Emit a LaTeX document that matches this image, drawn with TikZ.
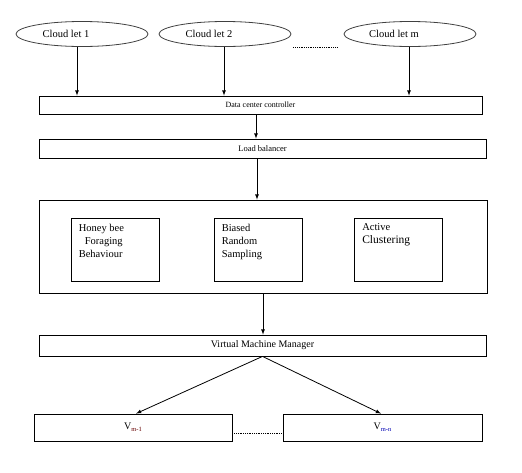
\documentclass[tikz,border=0pt]{standalone}
\usepackage{fontspec}
\setmainfont{Liberation Serif}
\usetikzlibrary{positioning}
\usetikzlibrary{arrows,shapes}
\usetikzlibrary{calc}
\tikzstyle{cloud}=[ellipse,draw=black!75,line width=0.8pt,minimum width=132pt,minimum height=25pt,inner sep=0pt]
\tikzstyle{cloudtext}=[font=\fontsize{10.5}{12}\selectfont,inner sep=0pt]
\tikzstyle{bar}=[rectangle,draw,line width=0.8pt,inner sep=0pt]
\tikzstyle{algbox}=[rectangle,draw,line width=0.8pt,minimum width=88pt,minimum height=63pt,inner sep=0pt]
\tikzstyle{algtext}=[anchor=north west,align=left,font=\fontsize{10.5}{13}\selectfont,inner sep=0pt]
\tikzstyle{edge} = [draw,line width=0.8pt,-latex]

\begin{document}
\begin{tikzpicture}[x=1pt,y=-1pt]
  \useasboundingbox (0,0) rectangle (522,472);

  % cloudlets
  \foreach \x/\name/\idx in {82/c1/1, 225/c2/2, 410/cm/m}
  {
    \node[cloud] (\name) at (\x,34) {};
    \node[cloudtext] (\name t) at ([xshift=-16pt]\name.center) {Cloud let \idx};
  }
  \draw[densely dotted,line width=0.8pt] ([xshift=2pt]c2.south -| c2.east) -- ([xshift=-6pt]cm.south -| cm.west);

  \node[bar,minimum width=443pt,minimum height=18pt,font=\fontsize{8}{9}\selectfont] (dcc) at (260.5,105) {Data center controller};
  \node[bar,minimum width=447pt,minimum height=19pt,font=\fontsize{8.5}{10}\selectfont] (lb) at (262.5,148.5) {Load balancer};

  \foreach \name/\dx in {c1/-5, c2/-1, cm/-1}
    \draw[edge] ([xshift=\dx pt]\name.south) -- ([xshift=\dx pt]\name.south |- dcc.north);

  % algorithms
  \node[bar,minimum width=448pt,minimum height=93pt] (pool) at (263,246.5) {};
  \foreach \x/\name in {115/hb, 258/brs, 398.5/ac}
    \node[algbox] (\name) at (\x,249.5) {};
  \node[algtext] (hbt) at ([xshift=8pt,yshift=-6pt]hb.north west) {Honey bee\\\hspace*{6pt}Foraging\\Behaviour};
  \node[algtext] (brst) at ([xshift=8pt,yshift=-6pt]brs.north west) {Biased\\Random\\Sampling};
  \node[algtext] (act) at ([xshift=8pt,yshift=-6pt]ac.north west) {Active\\{\fontsize{11.5}{13}\selectfont Clustering}};

  \node[bar,minimum width=447pt,minimum height=21pt,font=\fontsize{10}{12}\selectfont] (vmm) at (262.5,345.5) {Virtual Machine Manager};

  \node[bar,minimum width=198pt,minimum height=27pt,font=\fontsize{10}{12}\selectfont] (v1) at (133,427.5) {V\raisebox{-2pt}{\fontsize{6.5}{7}\selectfont\color{red!40!black}m-1}};
  \node[bar,minimum width=199pt,minimum height=27pt,font=\fontsize{10}{12}\selectfont] (v2) at (382.5,427.5) {V\raisebox{-2pt}{\fontsize{6.5}{7}\selectfont\color{blue!70!black}m-n}};

  \draw[edge] ([xshift=-4.5pt]dcc.south) -- ([xshift=-4.5pt]dcc.south |- lb.north);
  \draw[edge] ([xshift=-5.5pt]lb.south) -- ([xshift=-5.5pt]lb.south |- pool.north);
  \draw[edge] (pool.south) -- (pool.south |- vmm.north);
  \draw[edge] (vmm.south) -- ([xshift=3pt]v1.north);
  \draw[edge] (vmm.south) -- ([xshift=-1.5pt]v2.north);
  \draw[densely dotted,line width=0.8pt] ([yshift=-5.5pt]v1.east) -- ([yshift=-5.5pt]v2.west);

\end{tikzpicture}
\end{document}
